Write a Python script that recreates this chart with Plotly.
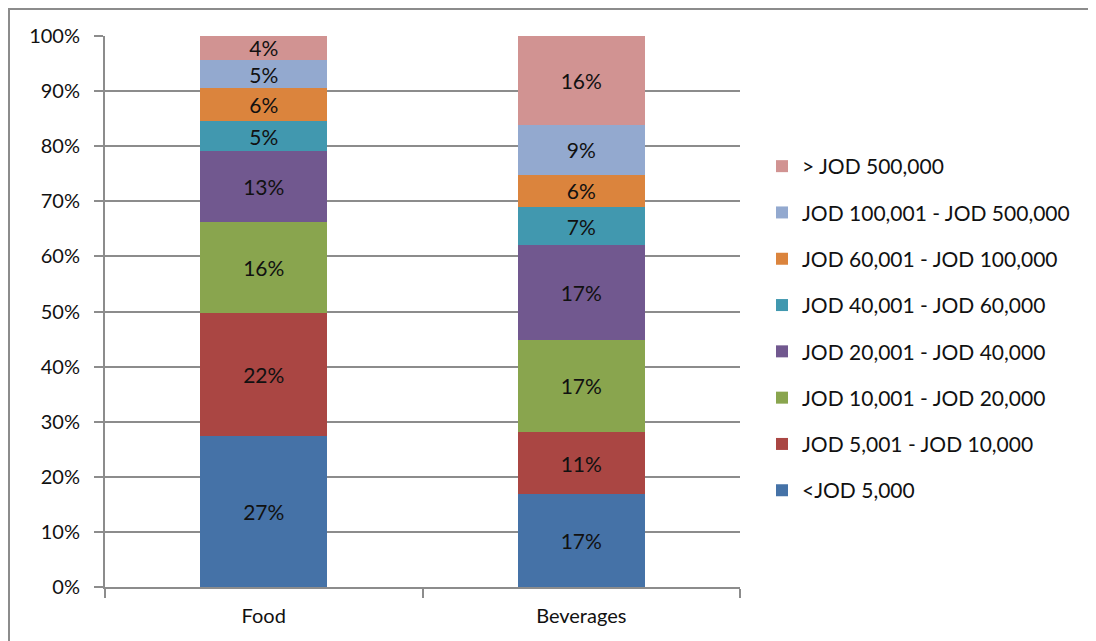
import plotly.graph_objects as go

categories = ["Food", "Beverages"]
series_names = [
    "<JOD 5,000",
    "JOD 5,001 - JOD 10,000",
    "JOD 10,001 - JOD 20,000",
    "JOD 20,001 - JOD 40,000",
    "JOD 40,001 - JOD 60,000",
    "JOD 60,001 - JOD 100,000",
    "JOD 100,001 - JOD 500,000",
    "> JOD 500,000",
]
lt5k = [27.4, 16.8]
r5_10k = [22.4, 11.3]
r10_20k = [16.4, 16.8]
r20_40k = [13.0, 17.1]
r40_60k = [5.3, 7.0]
r60_100k = [6.0, 5.8]
r100_500k = [5.2, 9.1]
gt500k = [4.3, 16.1]
series_values = [lt5k, r5_10k, r10_20k, r20_40k, r40_60k, r60_100k, r100_500k, gt500k]
colors = ["#4572A7", "#AA4643", "#89A54E", "#71588F", "#4198AF", "#DB843D", "#93A9CF", "#D19392"]
y_ticks = [0, 10, 20, 30, 40, 50, 60, 70, 80, 90, 100]
y_tick_labels = [f"{v}%" for v in y_ticks]

FONT = "Lato, Open Sans, sans-serif"

fig = go.Figure()
for i, (name, vals, col) in enumerate(zip(series_names, series_values, colors)):
    fig.add_trace(go.Bar(
        x=categories, y=vals, name=name, legendgroup=name,
        legendrank=1000 - i,
        marker=dict(color=col, line=dict(width=0)),
        texttemplate="%{y:.0f}%", textposition="inside", insidetextanchor="middle",
        textfont=dict(color="#111111", size=21, family=FONT),
        hoverinfo="skip",
    ))

W, H = 1088, 633
L, T = 97, 28
pw, ph = 635, 551
R = W - L - pw
B = H - T - ph

def px_x(x):
    return (x - L) / pw

def px_y(y):
    return (T + ph - y) / ph

fig.update_layout(
    width=W, height=H,
    margin=dict(l=L, r=R, t=T, b=B),
    barmode="stack", bargap=0.6,
    paper_bgcolor="white", plot_bgcolor="white",
    font=dict(family=FONT, size=17, color="#111111"),
    uniformtext=dict(minsize=21, mode="show"),
    legend=dict(
        traceorder="grouped", tracegroupgap=16,
        x=1.0 + 22 / pw, xanchor="left", y=px_y(138), yanchor="top",
        font=dict(size=21, family=FONT),
        itemwidth=30,
    ),
    xaxis=dict(
        showline=True, linecolor="#8c8c8c", linewidth=2,
        ticks="outside", tickson="boundaries", ticklen=9, tickcolor="#8c8c8c", tickwidth=2,
        tickfont=dict(size=20, family=FONT), ticklabelstandoff=10,
    ),
    yaxis=dict(
        range=[0, 100], tickmode="array", tickvals=y_ticks, ticktext=y_tick_labels,
        showline=True, linecolor="#8c8c8c", linewidth=2,
        showgrid=True, gridcolor="#8c8c8c", gridwidth=1.5,
        ticks="outside", ticklen=9, tickcolor="#8c8c8c", tickwidth=2,
        tickfont=dict(size=20, family=FONT), ticklabelstandoff=10,
        zeroline=False,
    ),
    shapes=[dict(
        type="rect", xref="paper", yref="paper",
        x0=px_x(1), x1=px_x(1085), y0=px_y(640), y1=px_y(1),
        line=dict(color="#8c8c8c", width=2), fillcolor="rgba(0,0,0,0)", layer="below",
    )],
)

fig.write_html("out.html")
